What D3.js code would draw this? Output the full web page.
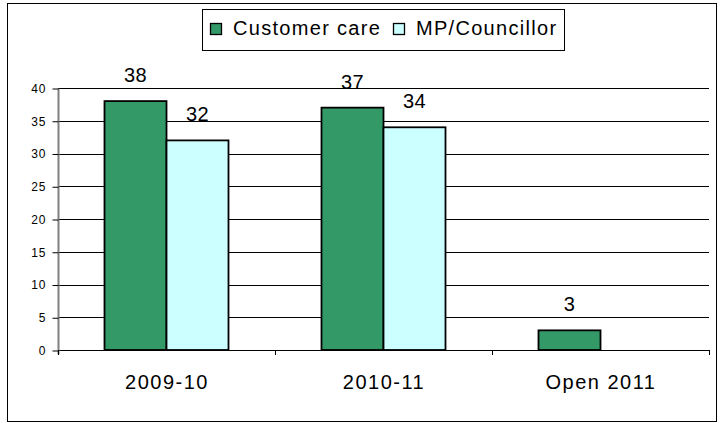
<!DOCTYPE html>
<html>
<head>
<meta charset="utf-8">
<script src="https://cdn.jsdelivr.net/npm/d3@7"></script>
<style>
  body { margin: 0; background: #fff; }
  text { font-family: "Liberation Sans", Arial, sans-serif; fill: #000; }
</style>
</head>
<body>
<div id="chart"></div>
<script>
const categories = ["2009-10", "2010-11", "Open 2011"];
const seriesNames = ["Customer care", "MP/Councillor"];
const customerCare = [38, 37, 3];
const mpCouncillor = [32, 34, 0];
const yTicks = [0, 5, 10, 15, 20, 25, 30, 35, 40];
const colors = ["#339966", "#ccffff"];

const width = 727;
const height = 423;
const margin = { left: 58, right: 18, top: 88, bottom: 73 };

const svg = d3.select("#chart")
  .append("svg")
  .attr("width", width)
  .attr("height", height);

// outer frame
svg.append("rect")
  .attr("x", 7.5).attr("y", 3.5)
  .attr("width", 709).attr("height", 418)
  .attr("fill", "none")
  .attr("stroke", "#000");

const x = d3.scaleBand()
  .domain(categories)
  .range([margin.left, width - margin.right]);

const xInner = d3.scaleBand()
  .domain(seriesNames)
  .range([0, x.bandwidth()])
  .paddingOuter(0.75);

const y = d3.scaleLinear()
  .domain([0, 40])
  .range([height - margin.bottom, margin.top]);

// gridlines
svg.append("g")
  .selectAll("line")
  .data(yTicks)
  .enter()
  .append("line")
  .attr("x1", margin.left)
  .attr("x2", width - margin.right)
  .attr("y1", d => Math.round(y(d)) + 0.5)
  .attr("y2", d => Math.round(y(d)) + 0.5)
  .attr("stroke", "#000")
  .attr("stroke-width", 1);

// y axis
const yAxis = svg.append("g")
  .attr("transform", `translate(${margin.left + 0.5},0.5)`)
  .call(d3.axisLeft(y).tickValues(yTicks).tickSize(6).tickSizeOuter(0).tickPadding(6));
yAxis.select(".domain").attr("stroke", "#808080").attr("stroke-width", 2)
  .attr("d", `M0,${y(40)}V${y(0) + 4}`);
yAxis.selectAll(".tick line").attr("stroke", "#000");
yAxis.selectAll(".tick text")
  .style("font-family", "'Liberation Sans', Arial, sans-serif")
  .style("font-size", "12px")
  .style("letter-spacing", "1px")
  .attr("fill", "#000");

// x axis
const xAxis = svg.append("g")
  .attr("transform", `translate(0.5,${Math.round(y(0)) + 0.5})`)
  .call(d3.axisBottom(x).tickSize(0).tickPadding(24));
xAxis.select(".domain").remove();
xAxis.selectAll(".tick text")
  .style("font-family", "'Liberation Sans', Arial, sans-serif")
  .style("font-size", "20px")
  .style("letter-spacing", "1.5px")
  .attr("fill", "#000");

// category boundary ticks
const bounds = categories.map(c => x(c)).concat([x.range()[1]]);
svg.append("g")
  .selectAll("line")
  .data(bounds)
  .enter()
  .append("line")
  .attr("x1", d => Math.round(d) + 0.5)
  .attr("x2", d => Math.round(d) + 0.5)
  .attr("y1", y(0))
  .attr("y2", y(0) + 5)
  .attr("stroke", "#000");

// bars
const rows = categories.map((c, i) => ({
  cat: c,
  vals: [
    { name: seriesNames[0], value: customerCare[i], color: colors[0] },
    { name: seriesNames[1], value: mpCouncillor[i], color: colors[1] }
  ]
}));

const groups = svg.append("g")
  .selectAll("g")
  .data(rows)
  .enter()
  .append("g")
  .attr("transform", d => `translate(${x(d.cat)},0)`);

groups.selectAll("rect")
  .data(d => d.vals.filter(v => v.value > 0))
  .enter()
  .append("rect")
  .attr("x", d => xInner(d.name))
  .attr("y", d => y(d.value))
  .attr("width", xInner.bandwidth())
  .attr("height", d => y(0) - y(d.value))
  .attr("fill", d => d.color)
  .attr("stroke", "#000")
  .attr("stroke-width", 1.8);

// value labels
groups.selectAll("text.val")
  .data(d => d.vals.filter(v => v.value > 0))
  .enter()
  .append("text")
  .attr("class", "val")
  .attr("x", d => xInner(d.name) + xInner.bandwidth() / 2)
  .attr("y", d => y(d.value) - 19)
  .attr("text-anchor", "middle")
  .style("font-size", "20px")
  .style("letter-spacing", "0.5px")
  .text(d => d.value);

// legend
const legend = svg.append("g");
legend.append("rect")
  .attr("x", 202.5).attr("y", 9.5)
  .attr("width", 362).attr("height", 41)
  .attr("fill", "#fff")
  .attr("stroke", "#000");

const legendX = [210, 393];
seriesNames.forEach((name, i) => {
  legend.append("rect")
    .attr("x", legendX[i] + 0.5).attr("y", 23.5)
    .attr("width", 11).attr("height", 11)
    .attr("fill", colors[i])
    .attr("stroke", "#000")
    .attr("stroke-width", 1.3);
  legend.append("text")
    .attr("x", legendX[i] + 23)
    .attr("y", 35)
    .style("font-size", "20px")
    .style("letter-spacing", "1.3px")
    .text(name);
});
</script>
</body>
</html>
